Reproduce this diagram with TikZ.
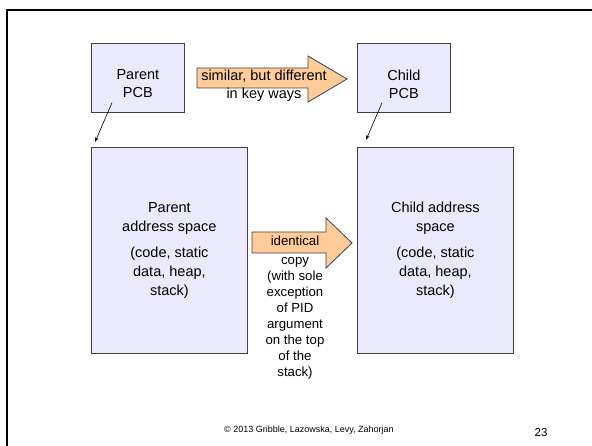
\documentclass[tikz,border=0pt]{standalone}
\usepackage{fontspec}
\setmainfont{Liberation Sans}
\usetikzlibrary{arrows.meta}
\definecolor{boxfill}{RGB}{234,234,252}
\definecolor{boxline}{RGB}{64,64,64}
\definecolor{arrowfill}{RGB}{255,204,153}
\tikzset{
  pbox/.style={draw=boxline, fill=boxfill, line width=0.8pt, anchor=north west,
    inner sep=0pt, align=center, font=\fontsize{14.5}{19}\selectfont},
  bigarrow/.style={draw=boxline, fill=arrowfill, line width=0.8pt, line join=miter},
  link/.style={-{Stealth[length=5pt,width=3.5pt]}, line width=0.6pt},
}
\begin{document}
\begin{tikzpicture}[x=1pt,y=-1pt]
  \useasboundingbox (0,0) rectangle (592,446);
  % slide frame
  \draw[line width=2.5pt] (592,10) -- (7,10) -- (7,446);
  \foreach \nm/\xx/\who/\addrtxt/\tlx/\tly/\hdx/\hdy in
      {p/91/Parent/{Parent\\address space}/21/-10/4/-5,
       c/357/Child/{Child address\\space}/25/-10/9/-7} {
    \node[pbox, minimum width=93pt, minimum height=69pt] (\nm-pcb) at (\xx,43) {};
    \node[font=\fontsize{14.5}{18}\selectfont, align=center]
      at ([yshift=-6pt]\nm-pcb.center) {\who\\PCB};
    \node[pbox, minimum width=156pt, minimum height=206pt] (\nm-addr) at (\xx,147)
      {\addrtxt\\[7pt](code, static\\data, heap,\\stack)};
    \coordinate (\nm-tail) at ([shift={(\tlx,\tly)}]\nm-pcb.south west);
    \coordinate (\nm-head) at ([shift={(\hdx,\hdy)}]\nm-addr.north west);
    \draw[link] (\nm-tail) -- (\nm-head);
  }
  % the two fat arrows
  \draw[bigarrow] (197,68) -- (308,68) -- (308,56) -- (347,79) -- (308,102)
    -- (308,88) -- (197,88) -- cycle;
  \node[font=\fontsize{14.5}{18}\selectfont, align=center] (simtext) at (264,86)
    {similar, but different\\in key ways};
  \draw[bigarrow] (252,232) -- (326,232) -- (326,218) -- (352,243) -- (326,268)
    -- (326,253) -- (252,253) -- cycle;
  \node[font=\fontsize{13.2}{16}\selectfont, align=center] (idtext) at (295,308)
    {identical\\[3pt]copy\\(with sole\\exception\\of PID\\argument\\on the top\\of the\\stack)};
  % footer
  \node[font=\fontsize{9}{11}\selectfont] (credit) at (309,430)
    {© 2013 Gribble, Lazowska, Levy, Zahorjan};
  \node[font=\fontsize{11.5}{13}\selectfont] (pageno) at (541,433) {23};
\end{tikzpicture}
\end{document}
